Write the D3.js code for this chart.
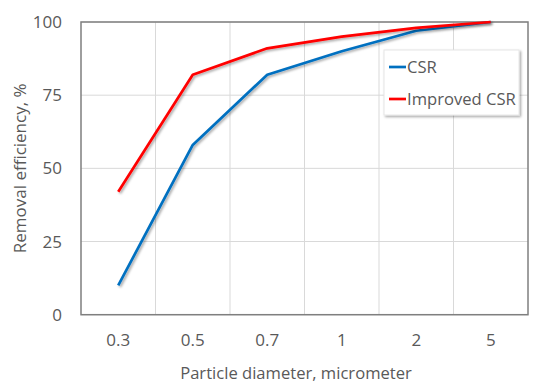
<!DOCTYPE html>
<html>
<head>
<meta charset="utf-8">
<script src="https://cdn.jsdelivr.net/npm/d3@7"></script>
<style>
  body { margin: 0; background: #fff; }
  text { font-family: "Open Sans", sans-serif; fill: #595959; }
</style>
</head>
<body>
<div id="chart"></div>
<script>
const categories = ["0.3", "0.5", "0.7", "1", "2", "5"];
const csr = [10, 58, 82, 90, 97, 100];
const improved = [42, 82, 91, 95, 98, 100];
const yTicks = [0, 25, 50, 75, 100];

const width = 550, height = 390;
const margin = {top: 22, right: 22, bottom: 75, left: 81};

const svg = d3.select("#chart").append("svg")
    .attr("width", width).attr("height", height);

const defs = svg.append("defs");
const shadow = defs.append("filter").attr("id", "shadow")
    .attr("x", "-20%").attr("y", "-20%").attr("width", "140%").attr("height", "140%");
shadow.append("feDropShadow").attr("dx", 1.5).attr("dy", 1.5)
    .attr("stdDeviation", 1).attr("flood-color", "#000").attr("flood-opacity", 0.35);

const x = d3.scaleBand().domain(categories)
    .range([margin.left, width - margin.right]);
const y = d3.scaleLinear().domain([0, 100])
    .range([height - margin.bottom - 0.3, margin.top]);

// gridlines
const grid = svg.append("g");
grid.selectAll(".hg").data(yTicks).enter().append("line")
    .attr("x1", margin.left).attr("x2", width - margin.right)
    .attr("y1", d => y(d)).attr("y2", d => y(d))
    .attr("stroke", "#d9d9d9").attr("stroke-width", 1);
grid.selectAll(".vg").data(categories.slice(1)).enter().append("line")
    .attr("x1", d => x(d)).attr("x2", d => x(d))
    .attr("y1", y(0)).attr("y2", y(100))
    .attr("stroke", "#d9d9d9").attr("stroke-width", 1);

// plot border
svg.append("rect")
    .attr("x", margin.left).attr("y", y(100))
    .attr("width", width - margin.right - margin.left)
    .attr("height", y(0) - y(100))
    .attr("fill", "none").attr("stroke", "#7f7f7f").attr("stroke-width", 1.5);

// axes labels
svg.selectAll(".ytick").data(yTicks).enter().append("text")
    .attr("x", 62).attr("y", d => y(d) + 6)
    .attr("text-anchor", "end").attr("font-size", 17)
    .text(d => d);

svg.selectAll(".xtick").data(categories).enter().append("text")
    .attr("x", d => x(d) + x.bandwidth() / 2).attr("y", 346)
    .attr("text-anchor", "middle").attr("font-size", 17)
    .text(d => d);

svg.append("text")
    .attr("x", 296).attr("y", 379)
    .attr("text-anchor", "middle").attr("font-size", 16.6)
    .text("Particle diameter, micrometer");

svg.append("text")
    .attr("transform", `translate(26, ${(y(0) + y(100)) / 2}) rotate(-90)`)
    .attr("text-anchor", "middle").attr("font-size", 17)
    .text("Removal efficiency, %");

// lines
const line = d3.line()
    .x((d, i) => x(categories[i]) + x.bandwidth() / 2)
    .y(d => y(d));

const series = [
    {name: "CSR", values: csr, color: "#0070c0"},
    {name: "Improved CSR", values: improved, color: "#ff0000"}
];

svg.selectAll(".series").data(series).enter().append("path")
    .attr("d", d => line(d.values))
    .attr("fill", "none").attr("stroke", d => d.color)
    .attr("stroke-width", 2.7).attr("stroke-linejoin", "round")
    .attr("filter", "url(#shadow)");

// legend
const lg = svg.append("g").attr("transform", "translate(384, 50)");
lg.append("rect").attr("width", 135).attr("height", 65)
    .attr("fill", "#fff").attr("stroke", "#e6e6e6")
    .attr("filter", "url(#shadow)");
series.forEach((s, i) => {
    const yy = 17 + i * 32;
    lg.append("line").attr("x1", 5).attr("x2", 22).attr("y1", yy).attr("y2", yy)
        .attr("stroke", s.color).attr("stroke-width", 2.7);
    lg.append("text").attr("x", 23).attr("y", yy + 6)
        .attr("font-size", 16.6).text(s.name);
});
</script>
</body>
</html>
